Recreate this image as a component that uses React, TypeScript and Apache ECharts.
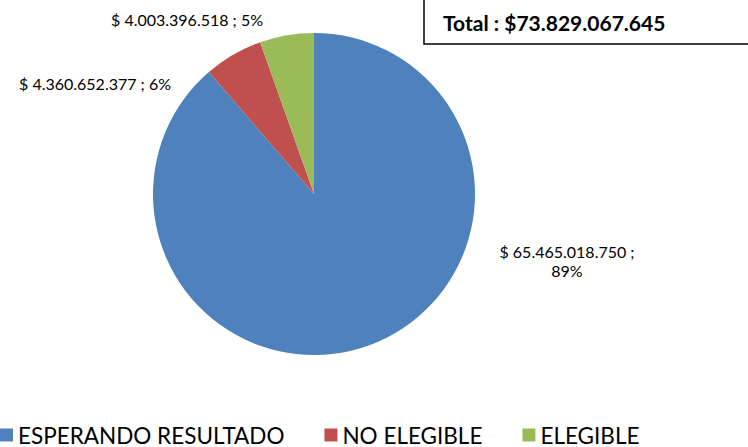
import React, { useEffect, useRef } from "react";
import * as echarts from "echarts";

const categories = ["ESPERANDO RESULTADO", "NO ELEGIBLE", "ELEGIBLE"];
const values = [65465018750, 4360652377, 4003396518];
const valueLabels = ["65.465.018.750", "4.360.652.377", "4.003.396.518"];
const percents = ["89", "6", "5"];
const totalLabel = "Total : $73.829.067.645";
const colors = ["#4F81BD", "#C0504D", "#9BBB59"];

const FONT = "Lato, 'Open Sans', sans-serif";

export default function App() {
  const ref = useRef<HTMLDivElement>(null);
  useEffect(() => {
    if (!ref.current) return;
    const chart = echarts.init(ref.current, null, { renderer: "svg" });
    const labelPos = [
      { x: 567, y: 261 },
      { x: 95, y: 83 },
      { x: 187, y: 19 },
    ];
    chart.setOption({
      animation: false,
      backgroundColor: "#ffffff",
      color: colors,
      textStyle: { fontFamily: FONT },
      legend: {
        left: -5,
        top: 418,
        itemWidth: 13,
        itemHeight: 13,
        itemGap: 40,
        icon: "rect",
        textStyle: { fontSize: 22.5, lineHeight: 24, color: "#000", fontFamily: FONT, padding: [0, 0, 0, 0] },
        data: categories,
      },
      graphic: [
        {
          type: "rect",
          shape: { x: 424, y: -5, width: 340, height: 49 },
          style: { fill: "#fff", stroke: "#000", lineWidth: 1.5 },
        },
        {
          type: "text",
          x: 443,
          y: 22,
          style: {
            text: totalLabel,
            font: `bold 21px ${FONT}`,
            fill: "#000",
            verticalAlign: "middle",
            align: "left",
          },
        },
      ],
      series: [
        {
          type: "pie",
          center: [314, 194],
          radius: [0, 161],
          startAngle: 90,
          clockwise: true,
          data: categories.map((c, i) => ({ name: c, value: values[i] })),
          label: {
            show: true,
            color: "#000",
            fontSize: 16,
            fontFamily: FONT,
            lineHeight: 19,
            align: "center",
            formatter: (p: any) =>
              p.dataIndex === 0
                ? `$ ${valueLabels[p.dataIndex]} ;\n${percents[p.dataIndex]}%`
                : `$ ${valueLabels[p.dataIndex]} ; ${percents[p.dataIndex]}%`,
          },
          labelLine: { show: false },
          labelLayout: (params: any) => ({
            x: labelPos[params.dataIndex].x,
            y: labelPos[params.dataIndex].y,
            align: "center",
            verticalAlign: "middle",
          }),
          emphasis: { disabled: true },
        },
      ],
    });
    return () => chart.dispose();
  }, []);
  return (
    <div
      ref={ref}
      style={{ position: "fixed", left: 0, top: 0, width: 748, height: 447 }}
    />
  );
}
